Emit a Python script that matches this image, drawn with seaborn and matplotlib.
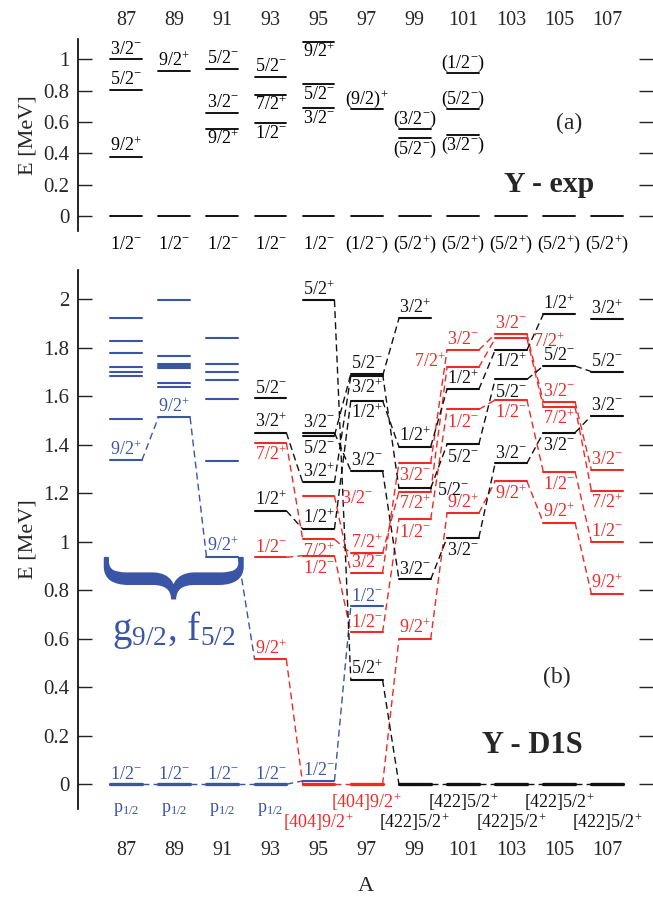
import re
import numpy as np
import pandas as pd
import matplotlib
matplotlib.use("Agg")
import matplotlib.pyplot as plt
import seaborn as sns
from matplotlib.textpath import TextPath
from matplotlib.patches import PathPatch
from matplotlib.font_manager import FontProperties
from matplotlib.transforms import Affine2D
from matplotlib.ticker import FuncFormatter, MultipleLocator

# ------------------------------------------------------------------ data
nuclei = [87, 89, 91, 93, 95, 97, 99, 101, 103, 105, 107]

# panel (a): experimental levels
exp_gs_label = ["1/2-", "1/2-", "1/2-", "1/2-", "1/2-", "(1/2-)",
                "(5/2+)", "(5/2+)", "(5/2+)", "(5/2+)", "(5/2+)"]
exp_A = [87, 87, 87, 89, 91, 91, 91, 93, 93, 93, 95, 95, 95, 97, 99, 99, 101, 101, 101]
exp_E = [1.000, 0.805, 0.377, 0.924, 0.941, 0.659, 0.557, 0.887, 0.774, 0.594,
         1.111, 0.843, 0.691, 0.681, 0.553, 0.496, 0.911, 0.681, 0.517]
exp_label = ["3/2-", "5/2-", "9/2+", "9/2+", "5/2-", "3/2-", "9/2+", "5/2-", "7/2+", "1/2-",
             "9/2+", "5/2-", "3/2-", "(9/2)+", "(3/2-)", "(5/2-)", "(1/2-)", "(5/2-)", "(3/2-)"]
exp_side = ["above", "above", "above", "above", "above", "above", "below", "above", "below", "below",
            "below", "below", "below", "above", "above", "below", "above", "above", "below"]

# panel (b): D1S levels
th_id = ["b87a", "b87b", "b87c", "b87d", "b87e", "b87f", "b87g", "b87_92", "b87_gs",
         "b89a", "b89b", "b89c", "b89d", "b89e", "b89f", "b89g", "b89_92", "b89_gs",
         "b91a", "b91b", "b91c", "b91d", "b91e", "b91f", "b91_92", "b91_gs",
         "b93_gs", "b95_gs", "b97_12",
         "r93_72", "r93_12", "r93_92",
         "r95_32", "r95_72", "r95_12", "r95_gs",
         "r97_72", "r97_32", "r97_12", "r97_gs",
         "r99_32", "r99_72", "r99_12", "r99_92",
         "r101_32", "r101_72", "r101_12", "r101_92",
         "r103_32", "r103_72", "r103_12", "r103_92",
         "r105_32", "r105_72", "r105_12", "r105_92",
         "r107_32", "r107_72", "r107_12", "r107_92",
         "k93_52", "k93_32", "k93_12",
         "k95_52p", "k95_32m", "k95_52m", "k95_32p", "k95_12p",
         "k97_52m", "k97_32p", "k97_12p", "k97_32m", "k97_52p",
         "k99_32p", "k99_12p", "k99_52m", "k99_32m", "k99_gs",
         "k101_12p", "k101_52m", "k101_32m", "k101_gs",
         "k103_12p", "k103_52m", "k103_32m", "k103_gs",
         "k105_12p", "k105_52m", "k105_32m", "k105_gs",
         "k107_32p", "k107_52m", "k107_32m", "k107_gs"]
th_A = [87] * 9 + [89] * 9 + [91] * 8 + [93, 95, 97] + [93] * 3 + [95] * 4 + [97] * 4 + \
       [99] * 4 + [101] * 4 + [103] * 4 + [105] * 4 + [107] * 4 + [93] * 3 + [95] * 5 + \
       [97] * 5 + [99] * 5 + [101] * 4 + [103] * 4 + [105] * 4 + [107] * 4
th_E = [1.923, 1.827, 1.780, 1.722, 1.701, 1.685, 1.506, 1.337, 0.0,
        1.997, 1.766, 1.732, 1.725, 1.718, 1.656, 1.640, 1.513, 0.0,
        1.839, 1.735, 1.701, 1.667, 1.588, 1.333, 0.939, 0.0,
        0.0, 0.014, 0.735,
        1.408, 0.936, 0.515,
        1.189, 1.010, 0.943, 0.0,
        0.953, 0.873, 0.627, 0.0,
        1.326, 1.207, 1.093, 0.599,
        1.791, 1.720, 1.546, 1.118,
        1.857, 1.839, 1.585, 1.250,
        1.578, 1.557, 1.289, 1.079,
        1.296, 1.211, 0.999, 0.785,
        1.592, 1.450, 1.128,
        1.997, 1.450, 1.438, 1.245, 1.053,
        1.693, 1.684, 1.582, 1.293, 0.430,
        1.921, 1.392, 1.221, 0.845, 0.0,
        1.629, 1.402, 1.017, 0.0,
        1.791, 1.670, 1.324, 0.0,
        1.938, 1.725, 1.450, 0.0,
        1.918, 1.702, 1.520, 0.0]
th_color = ["blue"] * 29 + ["red"] * 31 + ["black"] * 34
th_label = ["", "", "", "", "", "", "", "9/2+", "1/2-",
            "", "", "", "", "", "", "", "9/2+", "1/2-",
            "", "", "", "", "", "", "9/2+", "1/2-",
            "1/2-", "1/2-", "1/2-",
            "7/2+", "1/2-", "9/2+",
            "3/2-", "7/2+", "1/2-", "",
            "7/2+", "3/2-", "1/2-", "",
            "3/2-", "7/2+", "1/2-", "9/2+",
            "3/2-", "7/2+", "1/2-", "9/2+",
            "3/2-", "7/2+", "1/2-", "9/2+",
            "3/2-", "7/2+", "1/2-", "9/2+",
            "3/2-", "7/2+", "1/2-", "9/2+",
            "5/2-", "3/2+", "1/2+",
            "5/2+", "3/2-", "5/2-", "3/2+", "1/2+",
            "5/2-", "3/2+", "1/2+", "3/2-", "5/2+",
            "3/2+", "1/2+", "5/2-", "3/2-", "",
            "1/2+", "5/2-", "3/2-", "",
            "1/2+", "5/2-", "3/2-", "",
            "1/2+", "5/2-", "3/2-", "",
            "3/2+", "5/2-", "3/2-", ""]
th_side = ["", "", "", "", "", "", "", "above", "above",
           "", "", "", "", "", "", "", "above", "above",
           "", "", "", "", "", "", "above", "above",
           "above", "above", "above",
           "below", "above", "above",
           "right", "below", "below", "",
           "above", "above", "above", "",
           "below", "below", "below", "above",
           "above", "left", "below", "above",
           "above", "right", "below", "below",
           "above", "below", "below", "above",
           "above", "below", "above", "above",
           "above", "above", "above",
           "above", "above", "below", "above", "above",
           "above", "below", "below", "above", "above",
           "above", "above", "right", "above", "",
           "above", "below", "below", "",
           "below", "below", "above", "",
           "above", "above", "below", "",
           "above", "above", "above", ""]

# connections between levels of neighbouring isotopes
conn_from = ["b87_gs", "b89_gs", "b91_gs", "b93_gs", "b95_gs", "b87_92", "b89_92", "b91_92",
             "r93_92", "r95_gs", "r97_gs", "r99_92", "r101_92", "r103_92", "r105_92",
             "r93_72", "r95_72", "r97_72", "r99_72", "r101_72", "r103_72", "r105_72",
             "r93_12", "r95_12", "r97_12", "r99_12", "r101_12", "r103_12", "r105_12",
             "r95_32", "r97_32", "r99_32", "r101_32", "r103_32", "r105_32",
             "k93_32", "k93_12", "k95_52p", "k95_32m", "k95_52m", "k95_32p", "k95_12p",
             "k97_32p", "k97_12p", "k97_52m", "k97_32m", "k97_52p",
             "k99_gs", "k101_gs", "k103_gs", "k105_gs",
             "k99_12p", "k99_52m", "k99_32m", "k101_12p", "k101_52m", "k101_32m",
             "k103_12p", "k103_52m", "k103_32m", "k105_52m", "k105_32m"]
conn_to = ["b89_gs", "b91_gs", "b93_gs", "b95_gs", "b97_12", "b89_92", "b91_92", "r93_92",
           "r95_gs", "r97_gs", "r99_92", "r101_92", "r103_92", "r105_92", "r107_92",
           "r95_72", "r97_72", "r99_72", "r101_72", "r103_72", "r105_72", "r107_72",
           "r95_12", "r97_12", "r99_12", "r101_12", "r103_12", "r105_12", "r107_12",
           "r97_32", "r99_32", "r101_32", "r103_32", "r105_32", "r107_32",
           "k95_32p", "k95_12p", "k97_52p", "k97_32m", "k97_52m", "k97_32p", "k97_12p",
           "k99_32p", "k99_12p", "k99_52m", "k99_32m", "k99_gs",
           "k101_gs", "k103_gs", "k105_gs", "k107_gs",
           "k101_12p", "k101_52m", "k101_32m", "k103_12p", "k103_52m", "k103_32m",
           "k105_12p", "k105_52m", "k105_32m", "k107_52m", "k107_32m"]
conn_color = ["blue"] * 8 + ["red"] * 27 + ["black"] * 27

# configuration labels under the ground states
cfg_A = [87, 89, 91, 93, 95, 97, 99, 101, 103, 105, 107]
cfg_text = ["p$_{1/2}$"] * 4 + ["[404]9/2+"] * 2 + ["[422]5/2+"] * 5
cfg_color = ["blue"] * 4 + ["red"] * 2 + ["black"] * 5
cfg_row = ["mid"] * 4 + ["low", "high", "low", "high", "low", "high", "low"]

# ------------------------------------------------------------------ style
sns.set_theme(style="ticks")
plt.rcParams["font.family"] = ["Liberation Serif", "DejaVu Serif"]
plt.rcParams["mathtext.fontset"] = "custom"
plt.rcParams["mathtext.rm"] = "Liberation Serif"
plt.rcParams["mathtext.it"] = "Liberation Serif:italic"
plt.rcParams["mathtext.bf"] = "Liberation Serif:bold"

pal = {"blue": "#3a55a6", "red": "#ee2a26", "black": "#111111"}
HW = 0.66          # half width of a level bar (in A units)


def fmt(s):
    return re.sub(r"(?<=[0-9)])([+-])", r"$^{\1}$", s)


fig = plt.figure(figsize=(6.53, 8.99), dpi=100)
ax_a = fig.add_axes([78 / 653, 1 - 231 / 899, 1 - 78 / 653, 192 / 899])
ax_b = fig.add_axes([78 / 653, 1 - 809 / 899, 1 - 78 / 653, 539 / 899])

# ------------------------------------------------------------------ panel (a)
rows = []
for i, (A, E) in enumerate(zip(exp_A, exp_E)):
    rows += [dict(uid=i, x=A - HW, E=E), dict(uid=i, x=A + HW, E=E)]
for j, A in enumerate(nuclei):
    rows += [dict(uid=100 + j, x=A - HW, E=0.0), dict(uid=100 + j, x=A + HW, E=0.0)]
df_a = pd.DataFrame(rows)
sns.lineplot(data=df_a, x="x", y="E", units="uid", estimator=None, color="black",
             lw=1.3, legend=False, sort=False, ax=ax_a)

for A, E, lab, side in zip(exp_A, exp_E, exp_label, exp_side):
    dy = 4 if side == "above" else -11
    ax_a.annotate(fmt(lab), (A, E), xytext=(0, dy), textcoords="offset points",
                  ha="center", va="baseline", fontsize=13, color="black")
for A, lab in zip(nuclei, exp_gs_label):
    ax_a.annotate(fmt(lab), (A, 0.0), xytext=(0, -24), textcoords="offset points",
                  ha="center", va="baseline", fontsize=13, color="black",
                  annotation_clip=False)

ax_a.text(104.6, 0.20, "Y - exp", fontsize=21.5, fontweight="bold", ha="center", va="center")
ax_a.text(105.4, 0.59, "(a)", fontsize=17, ha="center", va="center")

ax_a.set_xlim(85.0, 108.9)
ax_a.set_ylim(-0.0957, 1.1295)
ax_a.yaxis.set_major_locator(MultipleLocator(0.2))
ax_a.set_xticks(nuclei)
ax_a.set_xticklabels([str(a) for a in nuclei])
ax_a.tick_params(axis="x", bottom=False, top=False, labelbottom=False, labeltop=True,
                 labelsize=14.5, pad=6.5, length=0)
ax_a.set_xlabel("")
ax_a.set_ylabel("E [MeV]", fontsize=16, labelpad=4)

# ------------------------------------------------------------------ panel (b)
pos = {k: (A, E) for k, A, E in zip(th_id, th_A, th_E)}

crow = []
for i, (f, t, c) in enumerate(zip(conn_from, conn_to, conn_color)):
    (A1, E1), (A2, E2) = pos[f], pos[t]
    crow += [dict(uid=i, x=A1 + HW, E=E1, color=c), dict(uid=i, x=A2 - HW, E=E2, color=c)]
df_c = pd.DataFrame(crow)
sns.lineplot(data=df_c, x="x", y="E", units="uid", estimator=None, hue="color",
             palette=pal, lw=1.0, linestyle=(0, (5, 3)), legend=False, sort=False, ax=ax_b)

lrow = []
for i, (A, E, c) in enumerate(zip(th_A, th_E, th_color)):
    kind = "ground" if E == 0.0 else "exc"
    lrow += [dict(uid=i, x=A - HW, E=E, color=c, kind=kind),
             dict(uid=i, x=A + HW, E=E, color=c, kind=kind)]
df_l = pd.DataFrame(lrow)
sns.lineplot(data=df_l, x="x", y="E", units="uid", estimator=None, hue="color",
             palette=pal, size="kind", sizes={"ground": 2.4, "exc": 1.5},
             legend=False, sort=False, ax=ax_b)

for A, E, lab, side, c in zip(th_A, th_E, th_label, th_side, th_color):
    if not lab:
        continue
    col = pal[c]
    if side == "above":
        ax_b.annotate(fmt(lab), (A, E), xytext=(0, 4), textcoords="offset points",
                      ha="center", va="baseline", fontsize=13, color=col)
    elif side == "below":
        ax_b.annotate(fmt(lab), (A, E), xytext=(0, -12.5), textcoords="offset points",
                      ha="center", va="baseline", fontsize=13, color=col)
    elif side == "right":
        ax_b.annotate(fmt(lab), (A + HW, E), xytext=(4.5, -2), textcoords="offset points",
                      ha="left", va="center", fontsize=13, color=col)
    elif side == "left":
        ax_b.annotate(fmt(lab), (A - HW, E), xytext=(-1, 4), textcoords="offset points",
                      ha="right", va="center", fontsize=13, color=col)

row_dy = {"mid": -18, "high": -13, "low": -27.5}
for A, t, c, r in zip(cfg_A, cfg_text, cfg_color, cfg_row):
    ax_b.annotate(fmt(t) if "[" in t else t, (A, 0.0), xytext=(0, row_dy[r]),
                  textcoords="offset points", ha="center", va="center",
                  fontsize=13, color=pal[c], annotation_clip=False)

# brace spanning 87-91
fp = FontProperties(family="Liberation Serif", weight="normal")
tp = TextPath((0, 0), "{", size=1, prop=fp)
bb = tp.get_extents()
bx0, bx1 = nuclei[0] - 0.9, nuclei[2] + 0.86
by0, by1 = 0.765, 0.935
T = (Affine2D().translate(-bb.x0, -bb.y0).rotate_deg(90).translate(bb.height, 0)
     .scale((bx1 - bx0) / bb.height, (by1 - by0) / bb.width).translate(bx0, by0))
ax_b.add_patch(PathPatch(tp, transform=T + ax_b.transData, fc=pal["blue"],
                         ec=pal["blue"], lw=1.0))
ax_b.text(89.0, 0.635, "g$_{9/2}$, f$_{5/2}$", fontsize=28, color=pal["blue"],
          ha="center", va="center")

ax_b.text(103.9, 0.16, "Y - D1S", fontsize=22, fontweight="bold", ha="center", va="center")
ax_b.text(104.9, 0.44, "(b)", fontsize=17, ha="center", va="center")

ax_b.set_xlim(85.0, 108.9)
ax_b.set_ylim(-0.102, 2.121)
ax_b.yaxis.set_major_locator(MultipleLocator(0.2))
ax_b.set_xticks(nuclei)
ax_b.set_xticklabels([str(a) for a in nuclei])
ax_b.tick_params(axis="x", bottom=False, top=False, labelsize=14.5, pad=23, length=0)
ax_b.set_xlabel("A", fontsize=16, labelpad=12)
ax_b.set_ylabel("E [MeV]", fontsize=16, labelpad=4)

for ax in (ax_a, ax_b):
    ax.set_facecolor("white")
    for s in ("top", "right", "bottom"):
        ax.spines[s].set_visible(False)
    ax.spines["left"].set_color("black")
    ax.spines["left"].set_linewidth(1.2)
    ax.yaxis.set_major_formatter(FuncFormatter(lambda v, p: f"{v:g}"))
    ax.tick_params(axis="y", direction="in", left=True, right=True, length=10,
                   width=1.0, color="#222222", labelsize=15, pad=6)

fig.savefig("out.png", dpi=100, facecolor="white")
